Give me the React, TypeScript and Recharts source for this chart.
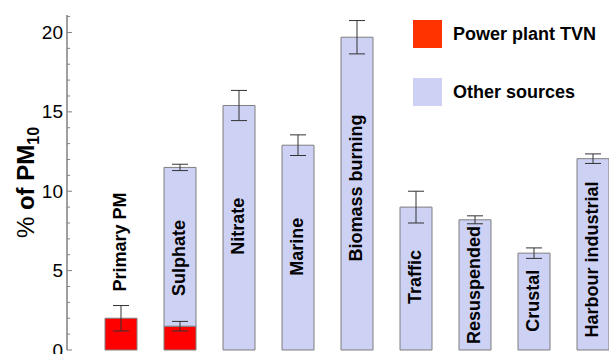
import React from 'react';
import { BarChart, Bar, XAxis, YAxis, ErrorBar, ReferenceDot } from 'recharts';

// source apportionment of PM10 (values in % of PM10)
const categories = [
  'Primary PM',
  'Sulphate',
  'Nitrate',
  'Marine',
  'Biomass burning',
  'Traffic',
  'Resuspended',
  'Crustal',
  'Harbour industrial',
];
const powerPlant = [2.0, 1.5, 0, 0, 0, 0, 0, 0, 0];
const powerPlantErr = [0.8, 0.3, null, null, null, null, null, null, null];
const otherSources = [0, 10.0, 15.4, 12.9, 19.7, 9.0, 8.2, 6.1, 12.05];
const otherErr = [null, 0.2, 0.95, 0.65, 1.05, 1.0, 0.25, 0.33, 0.3];
const yTicks = [0, 1, 2, 3, 4, 5, 6, 7, 8, 9, 10, 11, 12, 13, 14, 15, 16, 17, 18, 19, 20, 21];

// where each rotated category label is centred (in % units)
const labelMid = [6.8, 5.8, 7.8, 6.5, 10.2, 4.6, 4.1, 3.1, 5.7];

const legendItems = [
  { name: 'Power plant TVN', color: '#FF3300' },
  { name: 'Other sources', color: '#CDD1F4' },
];

const data = categories.map((name, i) => ({
  name,
  power: powerPlant[i],
  powerErr: powerPlantErr[i],
  other: otherSources[i],
  otherErr: otherErr[i],
}));

const FONT = '"Liberation Sans", Arial, sans-serif';

const YTick = (props: any) => {
  const { x, y, payload } = props;
  const v = payload.value;
  const major = v % 5 === 0;
  const axisX = x + 4;
  return (
    <g>
      <line x1={axisX} x2={axisX + (major ? 5 : 3)} y1={y} y2={y} stroke="#808080" strokeWidth={1} />
      {major && (
        <text x={x} y={y} textAnchor="end" dominantBaseline="central" fontSize={19} fontFamily={FONT} fill="#000">
          {v}
        </text>
      )}
    </g>
  );
};

const YLabel = (props: any) => {
  const { viewBox } = props;
  const cx = viewBox.x + 34;
  const cy = viewBox.y + viewBox.height / 2;
  return (
    <text
      x={cx}
      y={cy}
      transform={`rotate(-90, ${cx}, ${cy})`}
      textAnchor="middle"
      fontSize={24}
      fontFamily={FONT}
      fill="#000"
    >
      <tspan>%</tspan>
      <tspan fontWeight="bold"> of PM</tspan>
      <tspan fontSize={16} fontWeight="bold" dy={5}>10</tspan>
    </text>
  );
};

const catLabel = (text: string) => (props: any) => {
  const { viewBox } = props;
  const cx = viewBox.x + viewBox.width / 2;
  const cy = viewBox.y + viewBox.height / 2;
  return (
    <text
      x={cx}
      y={cy}
      transform={`rotate(-90, ${cx}, ${cy})`}
      textAnchor="middle"
      dominantBaseline="central"
      fontSize={18}
      fontWeight="bold"
      fontFamily={FONT}
      fill="#000"
    >
      {text}
    </text>
  );
};

const App = () => {
  return (
    <div style={{ position: 'absolute', left: 0, top: 0, width: 609, height: 354, overflow: 'hidden', background: '#fff' }}>
      <BarChart width={640} height={372} data={data} margin={{ top: 15, right: 18, bottom: 22, left: 0 }}>
        <XAxis dataKey="name" hide padding={{ left: 24, right: 0 }} />
        <YAxis
          width={67}
          domain={[0, 21.1]}
          ticks={yTicks}
          interval={0}
          tickSize={0}
          tickMargin={4}
          tickLine={false}
          axisLine={{ stroke: '#808080', strokeWidth: 1.5 }}
          tick={<YTick />}
          label={<YLabel />}
        />
        <Bar dataKey="power" stackId="a" fill="#FF0000" stroke="#7F7F7F" strokeWidth={1} barSize={32} isAnimationActive={false}>
          <ErrorBar dataKey="powerErr" width={8} stroke="#333" strokeWidth={1} />
        </Bar>
        <Bar dataKey="other" stackId="a" fill="#CDD1F4" stroke="#7F7F7F" strokeWidth={1} barSize={32} isAnimationActive={false}>
          <ErrorBar dataKey="otherErr" width={8} stroke="#333" strokeWidth={1} />
        </Bar>
        {categories.map((c, i) => (
          <ReferenceDot key={c} x={c} y={labelMid[i]} r={0} stroke="none" fill="none" ifOverflow="visible" label={catLabel(c)} />
        ))}
      </BarChart>
      <div style={{ position: 'absolute', left: 413, top: 20, fontFamily: FONT }}>
        {legendItems.map((item) => (
          <div key={item.name} style={{ display: 'flex', alignItems: 'center', height: 28, marginBottom: 30 }}>
            <div style={{ width: 29, height: 28, background: item.color }} />
            <span style={{ marginLeft: 11, fontSize: 18, fontWeight: 'bold', color: '#000' }}>{item.name}</span>
          </div>
        ))}
      </div>
    </div>
  );
};

export default App;
